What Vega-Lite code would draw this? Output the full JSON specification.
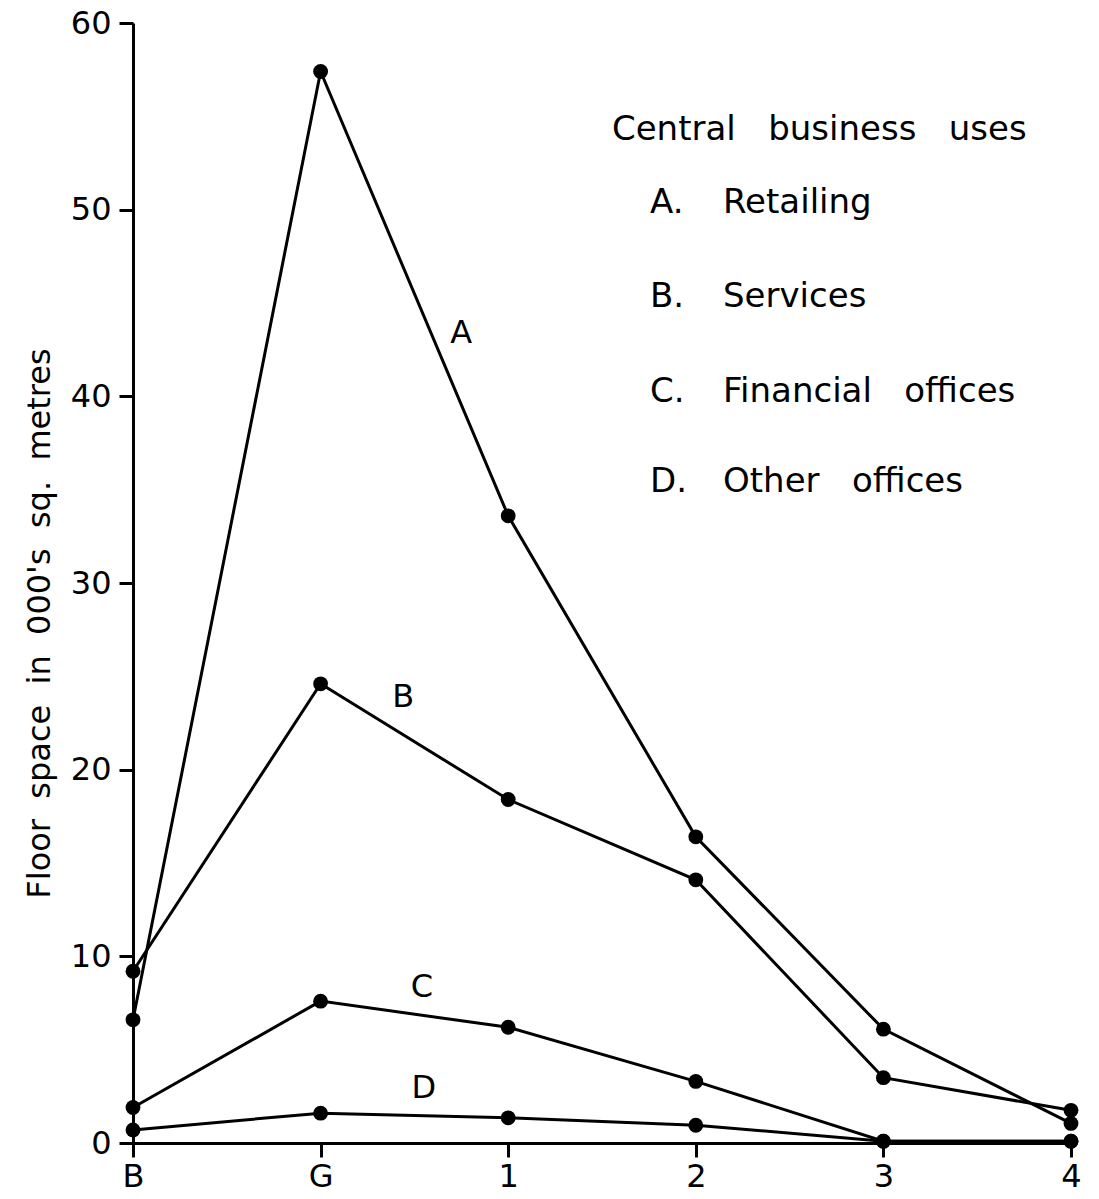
{
  "$schema": "https://vega.github.io/schema/vega-lite/v6.json",
  "width": 938,
  "height": 1120,
  "autosize": {"type": "none"},
  "padding": {"left": 133, "top": 23, "right": 28, "bottom": 56},
  "background": "white",
  "config": {"view": {"stroke": null}, "font": "DejaVu Sans"},
  "datasets": {
    "series": [
      {"use": "A", "floor": "B", "idx": 0, "value": 6.6},
      {"use": "A", "floor": "G", "idx": 1, "value": 57.4},
      {"use": "A", "floor": "1", "idx": 2, "value": 33.6},
      {"use": "A", "floor": "2", "idx": 3, "value": 16.4},
      {"use": "A", "floor": "3", "idx": 4, "value": 6.1},
      {"use": "A", "floor": "4", "idx": 5, "value": 1.05},
      {"use": "B", "floor": "B", "idx": 0, "value": 9.2},
      {"use": "B", "floor": "G", "idx": 1, "value": 24.6},
      {"use": "B", "floor": "1", "idx": 2, "value": 18.4},
      {"use": "B", "floor": "2", "idx": 3, "value": 14.1},
      {"use": "B", "floor": "3", "idx": 4, "value": 3.5},
      {"use": "B", "floor": "4", "idx": 5, "value": 1.75},
      {"use": "C", "floor": "B", "idx": 0, "value": 1.9},
      {"use": "C", "floor": "G", "idx": 1, "value": 7.6},
      {"use": "C", "floor": "1", "idx": 2, "value": 6.2},
      {"use": "C", "floor": "2", "idx": 3, "value": 3.3},
      {"use": "C", "floor": "3", "idx": 4, "value": 0.1},
      {"use": "C", "floor": "4", "idx": 5, "value": 0.1},
      {"use": "D", "floor": "B", "idx": 0, "value": 0.7},
      {"use": "D", "floor": "G", "idx": 1, "value": 1.6},
      {"use": "D", "floor": "1", "idx": 2, "value": 1.35},
      {"use": "D", "floor": "2", "idx": 3, "value": 0.95},
      {"use": "D", "floor": "3", "idx": 4, "value": 0.1},
      {"use": "D", "floor": "4", "idx": 5, "value": 0.1}
    ],
    "lineLabels": [
      {"t": "A", "idx": 1.75, "value": 43.4},
      {"t": "B", "idx": 1.44, "value": 23.9},
      {"t": "C", "idx": 1.54, "value": 8.35},
      {"t": "D", "idx": 1.55, "value": 2.95}
    ],
    "legendTitle": [
      {"t": "Central\u00a0\u00a0\u00a0business\u00a0\u00a0\u00a0uses", "idx": 2.553, "value": 53.73}
    ],
    "legendRows": [
      {"code": "A.", "name": "Retailing", "value": 49.82},
      {"code": "B.", "name": "Services", "value": 44.79},
      {"code": "C.", "name": "Financial\u00a0\u00a0\u00a0offices", "value": 39.7},
      {"code": "D.", "name": "Other\u00a0\u00a0\u00a0offices", "value": 34.87}
    ]
  },
  "layer": [
    {
      "data": {"name": "series"},
      "mark": {"type": "line", "color": "black", "strokeWidth": 3},
      "encoding": {
        "x": {
          "field": "idx",
          "type": "quantitative",
          "scale": {"domain": [0, 5], "nice": false, "zero": false},
          "axis": {
            "values": [0, 1, 2, 3, 4, 5],
            "labelExpr": "['B','G','1','2','3','4'][datum.value]",
            "title": null,
            "grid": false,
            "labelFlush": false,
            "labelOverlap": false,
            "labelFontSize": 32,
            "labelFont": "DejaVu Sans",
            "labelColor": "black",
            "labelPadding": 4,
            "tickSize": 14,
            "tickWidth": 3,
            "tickColor": "black",
            "domainColor": "black",
            "domainWidth": 3
          }
        },
        "y": {
          "field": "value",
          "type": "quantitative",
          "scale": {"domain": [0, 60], "nice": false},
          "axis": {
            "values": [0, 10, 20, 30, 40, 50, 60],
            "title": "Floor\u00a0\u00a0space\u00a0\u00a0in\u00a0\u00a0000's\u00a0\u00a0sq.\u00a0\u00a0metres",
            "titleFontSize": 32,
            "titleFontWeight": "normal",
            "titleFont": "DejaVu Sans",
            "titleColor": "black",
            "titlePadding": 14,
            "titleY": 600,
            "grid": false,
            "labelFlush": false,
            "labelOverlap": false,
            "labelFontSize": 32,
            "labelFont": "DejaVu Sans",
            "labelColor": "black",
            "labelPadding": 8,
            "tickSize": 14,
            "tickWidth": 3,
            "tickColor": "black",
            "domainColor": "black",
            "domainWidth": 3
          }
        },
        "detail": {"field": "use"}
      }
    },
    {
      "data": {"name": "series"},
      "mark": {"type": "point", "filled": true, "color": "black", "size": 220, "opacity": 1},
      "encoding": {
        "x": {"field": "idx", "type": "quantitative"},
        "y": {"field": "value", "type": "quantitative"}
      }
    },
    {
      "data": {"name": "lineLabels"},
      "mark": {"type": "text", "fontSize": 32, "color": "black", "align": "center", "baseline": "middle", "font": "DejaVu Sans"},
      "encoding": {
        "x": {"field": "idx", "type": "quantitative"},
        "y": {"field": "value", "type": "quantitative"},
        "text": {"field": "t"}
      }
    },
    {
      "data": {"name": "legendTitle"},
      "mark": {"type": "text", "fontSize": 34, "color": "black", "align": "left", "baseline": "alphabetic", "font": "DejaVu Sans"},
      "encoding": {
        "x": {"field": "idx", "type": "quantitative"},
        "y": {"field": "value", "type": "quantitative"},
        "text": {"field": "t"}
      }
    },
    {
      "data": {"name": "legendRows"},
      "mark": {"type": "text", "fontSize": 34, "color": "black", "align": "left", "baseline": "alphabetic", "font": "DejaVu Sans"},
      "encoding": {
        "x": {"datum": 2.756, "type": "quantitative"},
        "y": {"field": "value", "type": "quantitative"},
        "text": {"field": "code"}
      }
    },
    {
      "data": {"name": "legendRows"},
      "mark": {"type": "text", "fontSize": 34, "color": "black", "align": "left", "baseline": "alphabetic", "font": "DejaVu Sans"},
      "encoding": {
        "x": {"datum": 3.145, "type": "quantitative"},
        "y": {"field": "value", "type": "quantitative"},
        "text": {"field": "name"}
      }
    }
  ]
}
